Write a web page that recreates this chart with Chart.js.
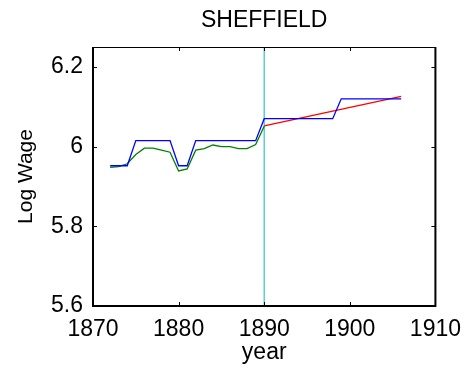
<!DOCTYPE html>
<html>
<head>
<meta charset="utf-8">
<script src="https://cdn.jsdelivr.net/npm/chart.js@4.4.1/dist/chart.umd.min.js"></script>
<style>
  html, body { margin: 0; padding: 0; background: #fff; }
  #wrap { width: 471px; height: 379px; }
</style>
</head>
<body>
<div id="wrap"><canvas id="mychart"></canvas></div>
<script>
// annual log wage, 1872-1906
const years = [1872, 1873, 1874, 1875, 1876, 1877, 1878, 1879, 1880, 1881,
  1882, 1883, 1884, 1885, 1886, 1887, 1888, 1889, 1890, 1891, 1892, 1893,
  1894, 1895, 1896, 1897, 1898, 1899, 1900, 1901, 1902, 1903, 1904, 1905, 1906];
const logWage = [5.952, 5.952, 5.952, 6.015, 6.015, 6.015, 6.015, 6.015, 5.952, 5.952,
  6.015, 6.015, 6.015, 6.015, 6.015, 6.015, 6.015, 6.015, 6.07, 6.07, 6.07, 6.07,
  6.07, 6.07, 6.07, 6.07, 6.07, 6.12, 6.12, 6.12, 6.12, 6.12, 6.12, 6.12, 6.12];

// fitted values up to the break
const fitYears = [1872, 1873, 1874, 1875, 1876, 1877, 1878, 1879, 1880, 1881,
  1882, 1883, 1884, 1885, 1886, 1887, 1888, 1889, 1890];
const fitted = [5.948, 5.950, 5.957, 5.980, 5.996, 5.996, 5.991, 5.986, 5.939, 5.944,
  5.991, 5.995, 6.004, 6.000, 6.000, 5.995, 5.995, 6.005, 6.051];

// linear trend after the break
const trendYears = [1890, 1906];
const trend = [6.052, 6.126];

const breakYear = 1890;
const xTicks = [1870, 1880, 1890, 1900, 1910];
const yTicks = [5.6, 5.8, 6, 6.2];
const yMin = 5.6, yMax = 6.25;

const font = "'Liberation Sans', Arial, sans-serif";
const pts = (xs, ys) => xs.map((x, i) => ({ x: x, y: ys[i] }));

// box around the plot with inward ticks on every side
const frame = {
  id: "frame",
  afterDatasetsDraw(chart) {
    const { ctx, chartArea: a, scales: { x, y } } = chart;
    ctx.save();
    ctx.strokeStyle = "#000";
    ctx.lineWidth = 1;
    ctx.beginPath();
    xTicks.forEach((v) => {
      const px = Math.round(x.getPixelForValue(v)) + 0.5;
      ctx.moveTo(px, a.bottom); ctx.lineTo(px, a.bottom - 4);
      ctx.moveTo(px, a.top); ctx.lineTo(px, a.top + 4);
    });
    yTicks.forEach((v) => {
      const py = Math.round(y.getPixelForValue(v)) + 0.5;
      ctx.moveTo(a.left, py); ctx.lineTo(a.left + 4, py);
      ctx.moveTo(a.right, py); ctx.lineTo(a.right - 4, py);
    });
    ctx.stroke();

    ctx.beginPath();
    ctx.moveTo(a.left, a.top + 0.5);
    ctx.lineTo(a.right, a.top + 0.5);
    ctx.stroke();
    ctx.lineWidth = 2;
    ctx.beginPath();
    ctx.moveTo(a.left, a.top);
    ctx.lineTo(a.left, a.bottom);
    ctx.lineTo(a.right, a.bottom);
    ctx.lineTo(a.right, a.top);
    ctx.stroke();
    ctx.restore();
  }
};

const line = (data, color) => ({
  data: data,
  borderColor: color,
  backgroundColor: color,
  borderWidth: 1.3,
  pointRadius: 0,
  tension: 0,
  fill: false
});

const ctx = document.getElementById("mychart").getContext("2d");

const myChart = new Chart(ctx, {
  type: "line",
  data: {
    datasets: [
      line(pts(years, logWage), "#0000ff"),
      line(pts(fitYears, fitted), "#008000"),
      line(pts(trendYears, trend), "#ff0000"),
      line(pts([breakYear, breakYear], [yMin, yMax]), "#40c8d0")
    ]
  },
  options: {
    responsive: true,
    maintainAspectRatio: false,
    animation: false,
    layout: { padding: { left: 0, right: 34, top: 0, bottom: 0 } },
    plugins: {
      legend: { display: false },
      tooltip: { enabled: false },
      title: {
        display: true,
        fullSize: false,
        text: "SHEFFIELD",
        color: "#000",
        font: { family: font, size: 23, weight: "normal" },
        padding: { top: 7, bottom: 12.4 }
      }
    },
    scales: {
      x: {
        type: "linear",
        min: 1870,
        max: 1910,
        afterBuildTicks: (s) => { s.ticks = xTicks.map((v) => ({ value: v })); },
        afterFit: (s) => { s.height = 73; },
        grid: { display: false, drawTicks: false },
        border: { display: false },
        ticks: {
          autoSkip: false,
          maxRotation: 0,
          padding: 10,
          color: "#000",
          font: { family: font, size: 23 },
          callback: (v) => String(v)
        },
        title: {
          display: true,
          text: "year",
          color: "#000",
          font: { family: font, size: 23 },
          padding: { top: 0, bottom: 13 }
        }
      },
      y: {
        type: "linear",
        min: yMin,
        max: yMax,
        afterBuildTicks: (s) => { s.ticks = yTicks.map((v) => ({ value: v })); },
        afterFit: (s) => { s.width = 93; },
        grid: { display: false, drawTicks: false },
        border: { display: false },
        ticks: {
          padding: 10,
          color: "#000",
          font: { family: font, size: 23 },
          callback: (v) => String(v)
        },
        title: {
          display: true,
          text: "Log Wage",
          color: "#000",
          font: { family: font, size: 21 },
          padding: { top: 14, bottom: 0 }
        }
      }
    }
  },
  plugins: [frame]
});
</script>
</body>
</html>
